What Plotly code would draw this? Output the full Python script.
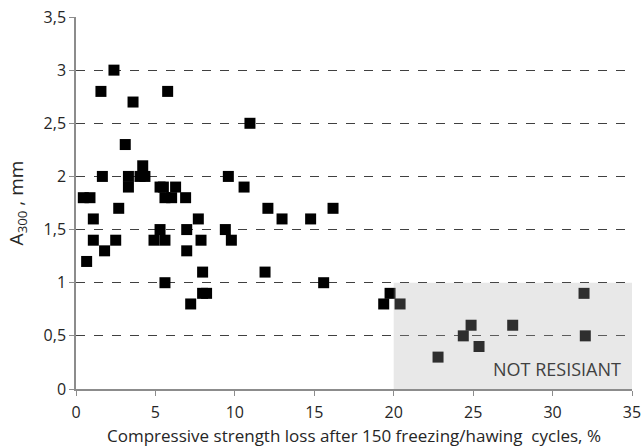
import plotly.graph_objects as go

x_loss = [0.46, 0.88, 0.67, 1.09, 1.09, 1.57, 1.66, 1.8, 2.39, 2.5, 2.69, 3.1,
          3.3, 3.3, 3.59, 4.2, 4.03, 4.34, 4.91, 5.29, 5.5, 5.29, 5.6, 6.02,
          5.6, 5.6, 5.77, 6.27, 6.9, 6.97, 6.97, 7.22, 7.7, 7.87, 7.97, 7.97,
          8.22, 9.4, 9.59, 9.78, 10.58, 10.95, 11.9, 12.08, 12.97, 14.77,
          15.59, 16.18, 19.37, 19.77, 20.4, 22.79, 24.38, 24.87, 25.37, 27.49,
          31.98, 32.06]
y_a300 = [1.8, 1.8, 1.2, 1.6, 1.4, 2.8, 2.0, 1.3, 3.0, 1.4, 1.7, 2.3,
          2.0, 1.9, 2.7, 2.1, 2.0, 2.0, 1.4, 1.9, 1.9, 1.5, 1.8, 1.8,
          1.4, 1.0, 2.8, 1.9, 1.8, 1.5, 1.3, 0.8, 1.6, 1.4, 1.1, 0.9,
          0.9, 1.5, 2.0, 1.4, 1.9, 2.5, 1.1, 1.7, 1.6, 1.6,
          1.0, 1.7, 0.8, 0.9, 0.8, 0.3, 0.5, 0.6, 0.4, 0.6,
          0.9, 0.5]

zone_x = [20, 35]
zone_y = [0, 1]
zone_label = "NOT RESISIANT"

x_ticks = [0, 5, 10, 15, 20, 25, 30, 35]
y_ticks = [0, 0.5, 1, 1.5, 2, 2.5, 3, 3.5]
y_ticklabels = ["0", "0,5", "1", "1,5", "2", "2,5", "3", "3,5"]

font = "Open Sans, Lato, sans-serif"

fig = go.Figure()
fig.add_trace(go.Scatter(
    x=x_loss, y=y_a300, mode="markers",
    marker=dict(symbol="square", size=11, color="black"),
    showlegend=False, cliponaxis=False, hoverinfo="skip",
))

fig.add_shape(type="rect", xref="x", yref="y",
              x0=zone_x[0], x1=zone_x[1], y0=zone_y[0], y1=zone_y[1],
              fillcolor="rgba(170,170,170,0.27)", line=dict(width=0),
              layer="above")

fig.add_annotation(x=30.3, y=0.19, xref="x", yref="y", text=zone_label,
                   showarrow=False, font=dict(size=18, color="#404040", family=font))

fig.update_layout(
    width=643, height=447,
    margin=dict(l=76, r=11, t=17, b=58),
    paper_bgcolor="white", plot_bgcolor="white",
    font=dict(family=font, size=16, color="#262626"),
    xaxis=dict(
        range=[0, 35], tickvals=x_ticks, showgrid=False, zeroline=False,
        showline=True, linecolor="#8c8c8c", linewidth=1.5, automargin=False,
        ticks="outside", ticklen=5, tickcolor="#8c8c8c",
        tickfont=dict(size=16), ticklabelstandoff=3,
        title=dict(text="Compressive strength loss after 150 freezing/hawing  cycles, %",
                   font=dict(size=17)),
    ),
    yaxis=dict(
        range=[0, 3.5], tickvals=y_ticks, ticktext=y_ticklabels,
        showgrid=True, gridcolor="#404040", griddash="dash", gridwidth=1,
        zeroline=False, showline=True, linecolor="#8c8c8c", linewidth=1.5,
        automargin=False,
        ticks="outside", ticklen=5, tickcolor="#8c8c8c",
        tickfont=dict(size=16),
        title=dict(text="A<sub>300</sub> , mm", font=dict(size=19)),
    ),
)

fig.write_html("out.html", config={"displayModeBar": False},
               post_script="document.body.style.margin='0';")
